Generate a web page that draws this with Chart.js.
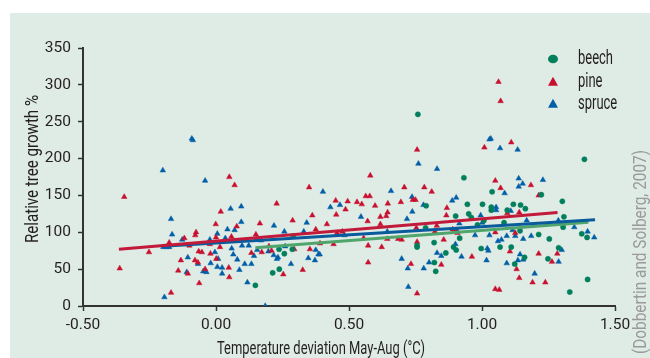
<!DOCTYPE html>
<html><head><meta charset="utf-8">
<script src="https://cdn.jsdelivr.net/npm/chart.js@4.4.1/dist/chart.umd.min.js"></script>
<style>
html,body{margin:0;padding:0;background:#fff;width:650px;height:358px;overflow:hidden}
#panel{position:absolute;left:10px;top:13px;width:640px;height:345px;background:#dfebe5}
</style></head><body>
<div id="panel"><canvas id="c"></canvas></div>
<script>
const seriesNames = ['beech', 'pine', 'spruce'];
const xTickLabels = ['-0.50', '0.00', '0.50', '1.00', '1.50'];
const yTickLabels = ['0', '50', '100', '150', '200', '250', '300', '350'];
const xTitle = 'Temperature deviation May-Aug (°C)';
const yTitle = 'Relative tree growth %';
const sourceText = '(Dobbertin and Solberg, 2007)';

const beechX = [0.148,0.237,0.257,0.287,0.29,0.213,0.238,0.759,0.932,0.79,0.945,1.002,0.901,0.95,0.96,0.983,1.007,0.788,0.916,0.82,0.756,0.756,0.893,0.903,0.864,0.997,0.821,0.826,1.385,1.038,1.223,1.302,1.118,1.145,1.035,1.035,1.095,1.163,1.308,1.083,1.305,1.375,1.395,1.143,1.213,1.253,1.068,1.11,1.288,1.16,1.248,1.123,1.397,1.33];
const beechY = [28,77,71,77,95,45,50,260,174,136,138,138,122,125,120,110,116,106,92,86,82,80,80,76,72,78,59,47,199,155,151,142,138,137,134,130,130,132,121,113,107,98,93,102,97,91,80,80,79,66,64,57,36,19];

const pineX = [-0.362,-0.345,-0.252,0.05,0.07,0.018,-0.001,0.078,-0.075,-0.078,0.165,-0.119,0,0.058,0.15,-0.176,-0.10,-0.023,-0.065,-0.053,-0.021,0.015,0.133,-0.132,-0.079,-0.068,0.001,0.048,-0.142,-0.106,-0.041,0.05,-0.063,-0.169,
0.58,0.35,0.228,0.45,0.495,0.53,0.563,0.578,0.548,0.598,0.452,0.487,0.57,0.362,0.288,0.417,0.375,0.455,0.475,0.555,0.391,0.442,0.572,0.199,0.294,0.172,0.209,0.353,0.572,0.326,0.253,
0.756,1.009,0.708,0.783,0.811,0.646,0.695,0.74,0.75,0.868,0.618,0.64,0.645,0.866,0.618,0.753,0.83,0.823,0.89,0.908,0.644,0.685,0.698,0.856,0.756,0.623,0.962,0.733,0.847,0.756,
1.062,1.07,1.11,1.05,1.07,1.184,1.213,1.095,1.14,1.05,1.125,1.105,1.213,1.283,1.263,1.13,1.14,1.19,1.238,1.05,1.065];
const pineY = [51,148,73,175,164,128,111,108,100,96,112,92,93,94,97,86,82,84,74,73,71,80,72,62,62,59,64,52,48,44,50,39,31,18,
177,161,139,143,142,141,149,149,138,136,124,131,115,123,116,111,104,99,101,92,85,84,82,81,77,73,75,77,59,49,43,
212,215,161,161,155,139,141,144,144,133,121,122,127,123,111,106,109,101,104,99,91,91,90,90,87,80,67,57,56,17,
304,278,222,170,160,164,150,126,127,100,99,74,71,71,60,50,38,32,32,23,22];

const spruceX = [-0.091,-0.087,-0.20,-0.041,0.055,0.095,-0.169,0.095,0.043,0.07,-0.165,0.005,-0.127,-0.023,0.035,-0.198,-0.186,-0.176,-0.004,0.059,0.098,0.123,0.143,0.065,0.08,-0.106,-0.068,-0.02,0.008,0.005,0.023,0.108,0.133,0.088,-0.11,-0.048,-0.036,0.023,0.118,-0.194,
0.402,0.43,0.466,0.545,0.218,0.341,0.257,0.33,0.483,0.153,0.169,0.26,0.155,0.197,0.217,0.233,0.229,0.375,0.385,0.39,0.347,0.372,0.282,0.185,
0.761,0.831,1.028,0.658,0.737,0.78,0.888,0.903,0.738,0.995,0.718,0.915,1.001,0.905,0.974,1.028,0.644,0.9,1.02,1.024,0.831,0.847,0.923,1.017,0.698,0.801,0.721,0.781,0.723,
1.033,1.068,1.134,1.138,1.138,1.153,1.229,1.085,1.053,1.053,1.108,1.168,1.287,1.347,1.397,1.422,1.093,1.125,1.115,1.185,1.155,1.06,1.073,1.30,1.143,1.155,1.135,1.288,1.093,1.198];
const spruceY = [227,225,184,170,132,135,118,114,104,103,97,98,90,90,92,80,80,80,73,78,82,82,68,70,63,66,57,58,64,53,52,57,57,49,46,47,46,44,32,12,
155,134,137,121,109,113,101,101,96,90,89,81,76,74,69,66,64,76,70,70,65,62,57,0,
193,186,226,156,148,137,143,147,128,123,118,112,113,103,96,96,101,84,78,75,72,68,67,62,64,59,51,51,26,
227,214,212,173,162,166,171,153,134,130,129,116,116,107,101,93,95,95,103,95,91,88,90,76,70,63,62,60,58,44];

const beechLineX = [0.148, 1.40];
const beechLineY = [79, 113.5];
const pineLineX = [-0.365, 1.284];
const pineLineY = [77, 127];
const spruceLineX = [-0.20, 1.425];
const spruceLineY = [81, 117];

const colBeech = '#007f5c', colPine = '#c8102e', colSpruce = '#005fa6';
const colBeechLine = '#4fa56c', colPineLine = '#c21a3a', colSpruceLine = '#0a5b9c';
const FONT = "Roboto, 'Liberation Sans', sans-serif";
const TXT = '#231f20';

const pts = (xs, ys) => xs.map((x, i) => ({x: x, y: ys[i]}));

// draw text horizontally condensed so that it spans targetW pixels (mimics a condensed face)
function fitText(ctx, text, cx, cy, rot, targetW, size, color) {
  ctx.save();
  ctx.font = size + 'px ' + FONT;
  ctx.fillStyle = color;
  ctx.textAlign = 'center';
  ctx.textBaseline = 'middle';
  const w = ctx.measureText(text).width;
  ctx.translate(cx, cy);
  ctx.rotate(rot);
  ctx.scale(targetW / w, 1);
  ctx.fillText(text, 0, 0);
  ctx.restore();
}

const overlay = {
  id: 'overlay',
  afterDraw(chart) {
    const ctx = chart.ctx;
    fitText(ctx, xTitle, 311, 336, 0, 208, 18.5, TXT);
    fitText(ctx, yTitle, 23, 156, -Math.PI / 2, 148, 18.5, TXT);
    fitText(ctx, sourceText, 631, 239, -Math.PI / 2, 204, 18.5, '#9a9a9a');
    // legend
    const cols = [colBeech, colPine, colSpruce];
    const styles = ['circle', 'triangle', 'triangle'];
    const ys = [46, 69, 91];
    ctx.save();
    ctx.font = '19.5px ' + FONT;
    const k = 35 / ctx.measureText(seriesNames[0]).width;
    for (let i = 0; i < seriesNames.length; i++) {
      ctx.fillStyle = cols[i];
      ctx.beginPath();
      if (styles[i] === 'circle') {
        ctx.ellipse(543, ys[i], 5, 4.3, 0, 0, Math.PI * 2);
      } else {
        ctx.moveTo(543, ys[i] - 5.3);
        ctx.lineTo(548, ys[i] + 3.7);
        ctx.lineTo(538, ys[i] + 3.7);
        ctx.closePath();
      }
      ctx.fill();
      ctx.save();
      ctx.fillStyle = TXT;
      ctx.textAlign = 'left';
      ctx.textBaseline = 'middle';
      ctx.translate(568, ys[i]);
      ctx.scale(k, 1);
      ctx.fillText(seriesNames[i], 0, 0);
      ctx.restore();
    }
    ctx.restore();
  }
};

new Chart(document.getElementById('c'), {
  type: 'scatter',
  data: {
    datasets: [
      {label: 'pine trend', data: pts(pineLineX, pineLineY), showLine: true, borderColor: colPineLine, borderWidth: 3, pointRadius: 0, fill: false},
      {label: 'spruce trend', data: pts(spruceLineX, spruceLineY), showLine: true, borderColor: colSpruceLine, borderWidth: 3, pointRadius: 0, fill: false},
      {label: 'beech trend', data: pts(beechLineX, beechLineY), showLine: true, borderColor: colBeechLine, borderWidth: 3, pointRadius: 0, fill: false},
      {label: seriesNames[0], data: pts(beechX, beechY), pointStyle: 'circle', pointRadius: 2.6, backgroundColor: colBeech, borderColor: colBeech, borderWidth: 0.5},
      {label: seriesNames[1], data: pts(pineX, pineY), pointStyle: 'triangle', pointRadius: 3.2, backgroundColor: colPine, borderColor: colPine, borderWidth: 0.5},
      {label: seriesNames[2], data: pts(spruceX, spruceY), pointStyle: 'triangle', pointRadius: 3.2, backgroundColor: colSpruce, borderColor: colSpruce, borderWidth: 0.5}
    ]
  },
  options: {
    responsive: true,
    maintainAspectRatio: false,
    animation: false,
    layout: {padding: {top: 35, right: 35, left: 0, bottom: 0}},
    plugins: {legend: {display: false}, tooltip: {enabled: false}},
    scales: {
      x: {
        type: 'linear', min: -0.5, max: 1.5,
        afterFit: (s) => { s.height = 52; },
        ticks: {stepSize: 0.5, padding: 5, color: TXT, font: {family: FONT, size: 15.5},
          callback: (v, i) => xTickLabels[i]},
        grid: {drawOnChartArea: false, drawTicks: true, tickLength: 5, tickColor: '#333', tickWidth: 1.5},
        border: {display: true, color: '#333', width: 2}
      },
      y: {
        type: 'linear', min: 0, max: 350,
        afterFit: (s) => { s.width = 73; },
        ticks: {stepSize: 50, padding: 7, color: TXT, font: {family: FONT, size: 15.5},
          callback: (v, i) => yTickLabels[i]},
        grid: {drawOnChartArea: false, drawTicks: true, tickLength: 5, tickColor: '#333', tickWidth: 1.5},
        border: {display: true, color: '#333', width: 2}
      }
    }
  },
  plugins: [overlay]
});
</script>
</body></html>
